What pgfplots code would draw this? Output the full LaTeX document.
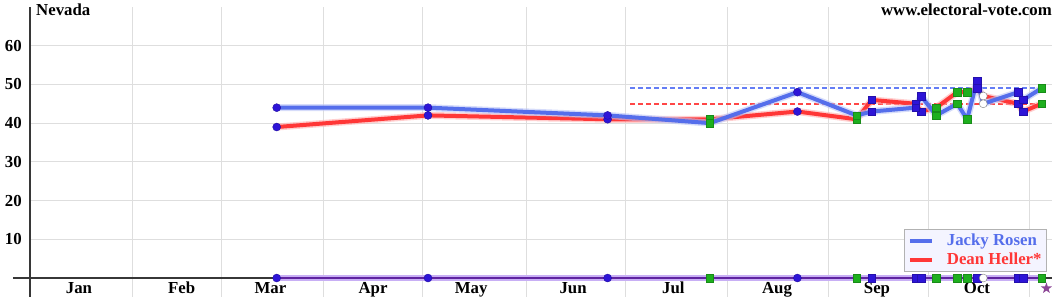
\documentclass[border=0pt]{standalone}
\usepackage{pgfplots}
\pgfplotsset{compat=1.18}
\usepackage{pgfplotstable}
\usepackage{fontspec}
\setmainfont{Liberation Serif}
\definecolor{rosen}{RGB}{85,110,235}
\definecolor{heller}{RGB}{255,55,55}
\definecolor{rosendash}{RGB}{100,125,245}
\definecolor{hellerdash}{RGB}{255,70,70}
\definecolor{mblue}{RGB}{45,20,215}
\definecolor{mgreen}{RGB}{30,175,30}
\definecolor{purp}{RGB}{95,35,160}
\definecolor{lav}{RGB}{200,175,245}
\definecolor{starcol}{RGB}{140,70,150}
\definecolor{gridc}{RGB}{222,222,222}
\definecolor{axc}{RGB}{55,55,55}
\definecolor{legfill}{RGB}{244,244,255}

\pgfdeclareplotmark{fstar}{%
  \pgfpathmoveto{\pgfqpoint{0pt}{5.8pt}}%
  \pgfpathlineto{\pgfqpoint{1.36pt}{1.87pt}}%
  \pgfpathlineto{\pgfqpoint{5.52pt}{1.79pt}}%
  \pgfpathlineto{\pgfqpoint{2.2pt}{-0.72pt}}%
  \pgfpathlineto{\pgfqpoint{3.41pt}{-4.69pt}}%
  \pgfpathlineto{\pgfqpoint{0pt}{-2.32pt}}%
  \pgfpathlineto{\pgfqpoint{-3.41pt}{-4.69pt}}%
  \pgfpathlineto{\pgfqpoint{-2.2pt}{-0.72pt}}%
  \pgfpathlineto{\pgfqpoint{-5.52pt}{1.79pt}}%
  \pgfpathlineto{\pgfqpoint{-1.36pt}{1.87pt}}%
  \pgfpathclose
  \pgfusepathqfill}

% day of year (Jan 1 = 0), Rosen, Heller, baseline, marker type
\pgfplotstableread{
day   rosen heller zero type
75    44    39     0    c
121   44    42     0    c
175.6 42    41     0    c
206.7 40    41     0    g
233.3 48    43     0    c
251.3 42    41     0    g
255.9 43    46     0    b
269.2 44    45     0    b
270.9 47    43     0    b
275.5 42    44     0    g
281.9 45    48     0    g
284.9 41    48     0    g
287.9 51    49     0    b
289.8 45    47     0    o
300.4 48    45     0    b
301.9 46    43     0    b
307.5 49    45     0    g
}\polls

\pgfplotstableread{
day   rosen heller
182.5 49    45
307.5 49    45
}\avg

\pgfplotstableread{
day y
309 -2.65
}\election

\begin{document}
\begin{tikzpicture}
\begin{axis}[
  name=ax,
  scale only axis, width=1022pt, height=290pt,
  xmin=0, xmax=310.7, ymin=-4.9, ymax=70,
  axis line style={draw=none},
  clip=false,
  xtick={0,31.2,58.3,89.1,119.2,150.8,180.9,211.9,242.9,273,304},
  xticklabels={},
  extra x ticks={14.9,46.1,73.1,104.3,134.1,165.1,195.6,227.1,257.5,287.9},
  extra x tick labels={Jan,Feb,Mar,Apr,May,Jun,Jul,Aug,Sep,Oct},
  extra x tick style={grid=none},
  xticklabel style={anchor=base, inner sep=0pt, yshift=3.5pt},
  ytick={10,20,30,40,50,60},
  grid=major,
  major grid style={gridc, line width=1pt},
  major tick length=0pt,
  tick label style={font=\fontsize{16.8}{18}\selectfont\bfseries},
  yticklabel style={anchor=east, inner sep=0pt, xshift=-8pt},
  /pgf/number format/assume math mode=true,
  legend style={at={(axis description cs:0.9951,0.0862)}, anchor=south east,
    fill=legfill, draw=gray!60, line width=0.8pt,
    font=\fontsize{16.8}{19}\selectfont\bfseries,
    inner xsep=3pt, inner ysep=2pt, row sep=0pt,
    nodes={inner sep=2pt, text height=11.5pt, text depth=3.5pt},
    /tikz/every odd column/.append style={column sep=11pt}},
  legend cell align=left,
  legend image code/.code={\draw[#1, line width=4pt] (0pt,0pt) -- (22pt,0pt);},
]
% axis lines
\draw[axc, line width=2pt] (rel axis cs:0,0) -- (rel axis cs:0,1);
\draw[axc, line width=1.8pt] ([xshift=-17pt]axis cs:0,0) -- (axis cs:310.7,0);

% average dashed lines
\addplot[color=rosendash, solid, line width=1.6pt, dash pattern=on 5pt off 3pt, forget plot] table[x=day,y=rosen]{\avg};
\addplot[color=hellerdash, solid, line width=1.6pt, dash pattern=on 5pt off 3pt, forget plot] table[x=day,y=heller]{\avg};

% candidate lines with soft halo
\addplot[draw=heller!40, line width=7pt, line join=round, opacity=0.6, forget plot] table[x=day,y=heller]{\polls};
\addplot[draw=heller, line width=4pt, line join=round, forget plot] table[x=day,y=heller]{\polls};
\addplot[draw=rosen!40, line width=7pt, line join=round, opacity=0.6, forget plot] table[x=day,y=rosen]{\polls};
\addplot[draw=rosen, line width=4pt, line join=round, forget plot] table[x=day,y=rosen]{\polls};

% baseline poll strip
\addplot[draw=lav, line width=6pt, forget plot] table[x=day,y=zero]{\polls};
\addplot[draw=purp, line width=2pt, forget plot] table[x=day,y=zero]{\polls};

% markers
\pgfplotsset{pollmarks/.style={scatter, only marks, scatter src=explicit symbolic, forget plot,
  scatter/classes={
    c={mark=*, mark size=4pt, draw=mblue!75!black, fill=mblue},
    g={mark=square*, mark size=3.7pt, draw=mgreen!80!black, fill=mgreen},
    b={mark=square*, mark size=3.7pt, draw=mblue!80!black, fill=mblue},
    o={mark=*, mark size=4pt, draw=gray, fill=white}}}}
\addplot[pollmarks] table[x=day, y=heller, meta=type]{\polls};
\addplot[pollmarks] table[x=day, y=rosen, meta=type]{\polls};
\addplot[pollmarks] table[x=day, y=zero, meta=type]{\polls};

% election day
\addplot[only marks, mark=fstar, starcol, forget plot] table[x=day,y=y]{\election};

\addlegendimage{rosen}
\addlegendentry{\textcolor{rosen}{Jacky Rosen}}
\addlegendimage{heller}
\addlegendentry{\textcolor{heller}{Dean Heller*}}
\end{axis}
\node[anchor=base west, inner sep=0pt, font=\fontsize{16.8}{18}\selectfont\bfseries] at ([xshift=6pt,yshift=-9pt]ax.north west) {Nevada};
\node[anchor=base east, inner sep=0pt, font=\fontsize{16.8}{18}\selectfont\bfseries] at ([xshift=0pt,yshift=-9pt]ax.north east) {www.electoral-vote.com};
\pgfresetboundingbox
\path[use as bounding box] ([shift={(-30pt,-3pt)}]ax.south west) rectangle ([shift={(8pt,7pt)}]ax.north east);
\end{tikzpicture}
\end{document}
